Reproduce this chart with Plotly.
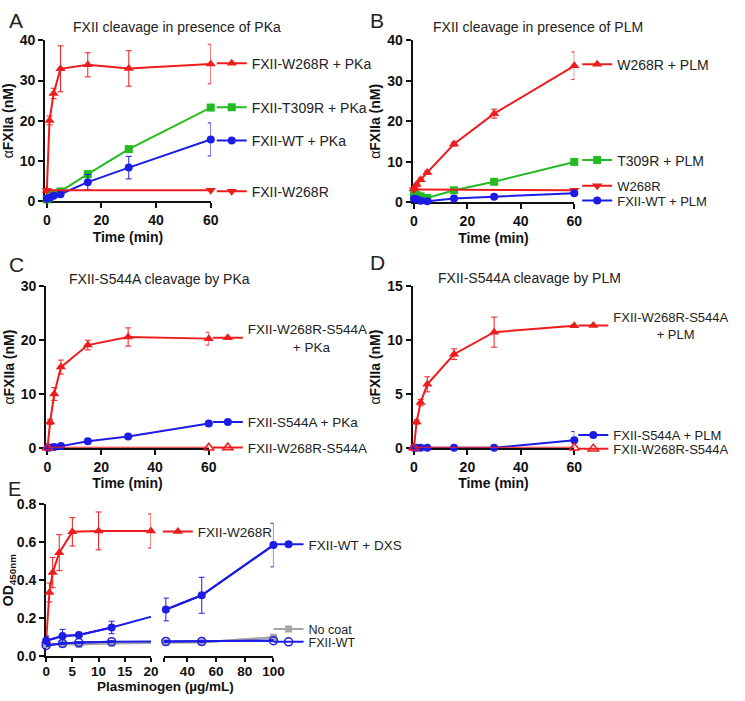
import plotly.graph_objects as go

W, H = 745, 701
FONT = "Liberation Sans, Arial, sans-serif"
RED = "#EE1C1C"
BLUE = "#1C1CE6"
GREEN = "#22BB22"
GRAY = "#A6A6A6"
INK = "#111111"

# ---------------- data ----------------
# Panel A: FXII cleavage in presence of PKa
t_a = [0, 1, 2.5, 5, 15, 30, 60]
a_w268r_pka = [2.7, 20.1, 26.8, 32.9, 33.9, 33.0, 34.1]
a_w268r_pka_err = [0.3, 1.1, 1.3, 5.7, 3.0, 4.4, 4.9]
a_t309r_pka = [0.5, 1.0, 1.8, 2.5, 6.8, 13.0, 23.3]
a_t309r_pka_err = [0.2, 0.2, 0.2, 0.3, 0.4, 0.5, 0.4]
a_wt_pka = [0.7, 1.0, 1.4, 1.8, 4.8, 8.4, 15.4]
a_wt_pka_err = [0.2, 0.3, 0.4, 0.6, 1.9, 2.8, 4.1]
t_a_ctrl = [0, 60]
a_w268r = [2.8, 2.8]

# Panel B: FXII cleavage in presence of PLM
t_b = [0, 1, 2.5, 5, 15, 30, 60]
b_w268r_plm = [3.4, 4.4, 5.6, 7.4, 14.4, 21.9, 33.7]
b_w268r_plm_err = [0.3, 0.3, 0.4, 0.4, 0.5, 1.1, 3.4]
b_t309r_plm = [2.0, 1.8, 1.5, 1.1, 3.0, 5.1, 10.0]
b_t309r_plm_err = [0.2, 0.2, 0.2, 0.2, 0.2, 0.3, 0.3]
b_wt_plm = [0.9, 0.8, 0.4, 0.3, 1.0, 1.4, 2.3]
b_wt_plm_err = [0.1, 0.1, 0.1, 0.1, 0.1, 0.2, 0.2]
t_b_ctrl = [0, 60]
b_w268r = [3.2, 3.0]

# Panel C: FXII-S544A cleavage by PKa
t_c = [0, 1, 2.5, 5, 15, 30, 60]
c_w268r_s544a_pka = [0, 4.8, 10.0, 15.0, 19.1, 20.6, 20.3]
c_w268r_s544a_pka_err = [0, 0.5, 1.2, 1.3, 0.9, 1.7, 1.2]
c_s544a_pka = [0, 0.05, 0.15, 0.3, 1.2, 2.1, 4.5]
c_s544a_pka_err = [0, 0, 0, 0, 0.1, 0.15, 0.5]
t_c_ctrl = [0, 60]
c_w268r_s544a = [0, 0]

# Panel D: FXII-S544A cleavage by PLM
t_d = [0, 1, 2.5, 5, 15, 30, 60]
d_w268r_s544a_plm = [0, 2.4, 4.2, 5.9, 8.7, 10.75, 11.35]
d_w268r_s544a_plm_err = [0, 0.2, 0.3, 0.7, 0.5, 1.4, 0.1]
d_s544a_plm = [0, 0, 0, 0, 0, 0, 0.7]
d_s544a_plm_err = [0, 0, 0, 0, 0, 0, 0.8]
t_d_ctrl = [0, 60]
d_w268r_s544a = [0, 0]

# Panel E: OD450 vs plasminogen
e_x_w268r = [0, 0.625, 1.25, 2.5, 5, 10, 20]
e_w268r = [0.08, 0.335, 0.44, 0.545, 0.655, 0.66, 0.66]
e_w268r_err = [0.02, 0.05, 0.08, 0.095, 0.075, 0.1, 0.09]
e_x = [0, 3.125, 6.25, 12.5, 25, 50, 100]
e_dxs = [0.08, 0.105, 0.11, 0.15, 0.245, 0.32, 0.585]
e_dxs_err = [0.025, 0.035, 0.01, 0.033, 0.06, 0.095, 0.115]
e_wt = [0.055, 0.066, 0.07, 0.075, 0.076, 0.076, 0.08]
e_wt_err = [0.005, 0.005, 0.005, 0.005, 0.005, 0.005, 0.005]
e_nocoat = [0.06, 0.062, 0.06, 0.066, 0.07, 0.072, 0.098]
e_nocoat_err = [0.006, 0.006, 0.006, 0.006, 0.006, 0.006, 0.008]

# ---------------- helpers ----------------
def px_x(v):
    return v / W

def px_y(v):
    return 1 - v / H

fig = go.Figure()


def series(x, y, color, symbol, name, leg, xa, ya, err=None, size=8,
           open_=False, show=True, mode="lines+markers"):
    marker = dict(symbol=symbol, size=size, color=color)
    if open_:
        marker["line"] = dict(color=color, width=1.5)
    tr = go.Scatter(x=x, y=y, mode=mode, name=name, legend=leg,
                    xaxis=xa, yaxis=ya, line=dict(color=color, width=2),
                    marker=marker, cliponaxis=False, showlegend=show)
    if err is not None:
        tr.error_y = dict(type="data", array=err, color=color,
                          thickness=1, width=3)
    fig.add_trace(tr)


def split_series(x, y, err, color, symbol, name, leg, size=8, open_=False, cut=21):
    # bridge line across the axis break (clipped by each subplot)
    for xa in ("x5", "x6"):
        fig.add_trace(go.Scatter(x=x, y=y, mode="lines", xaxis=xa, yaxis="y5",
                                 line=dict(color=color, width=2),
                                 showlegend=False, hoverinfo="skip"))
    lo = [i for i, v in enumerate(x) if v <= cut]
    hi = [i for i, v in enumerate(x) if v > cut]
    series([x[i] for i in lo], [y[i] for i in lo], color, symbol, name, leg,
           "x5", "y5", err=[err[i] for i in lo], size=size, open_=open_)
    series([x[i] for i in hi], [y[i] for i in hi], color, symbol, name, leg,
           "x6", "y5", err=[err[i] for i in hi], size=size, open_=open_, show=False)


# Panel A
series(t_a, a_w268r_pka, RED, "triangle-up", "FXII-W268R + PKa", "legend", "x", "y", a_w268r_pka_err, 9)
series(t_a, a_t309r_pka, GREEN, "square", "FXII-T309R + PKa", "legend2", "x", "y", a_t309r_pka_err, 8)
series(t_a, a_wt_pka, BLUE, "circle", "FXII-WT + PKa", "legend3", "x", "y", a_wt_pka_err, 8)
series(t_a_ctrl, a_w268r, RED, "triangle-down", "FXII-W268R", "legend4", "x", "y", None, 9)

# Panel B
series(t_b, b_w268r_plm, RED, "triangle-up", "W268R + PLM", "legend5", "x2", "y2", b_w268r_plm_err, 9)
series(t_b, b_t309r_plm, GREEN, "square", "T309R + PLM", "legend6", "x2", "y2", b_t309r_plm_err, 8)
series(t_b_ctrl, b_w268r, RED, "triangle-down", "W268R", "legend7", "x2", "y2", None, 9)
series(t_b, b_wt_plm, BLUE, "circle", "FXII-WT + PLM", "legend8", "x2", "y2", b_wt_plm_err, 8)

NB = "\u00a0"
# Panel C
series(t_c, c_w268r_s544a_pka, RED, "triangle-up", "FXII-W268R-S544A<br>" + NB * 12 + "+ PKa",
       "legend9", "x3", "y3", c_w268r_s544a_pka_err, 9)
series(t_c, c_s544a_pka, BLUE, "circle", "FXII-S544A + PKa", "legend10", "x3", "y3", c_s544a_pka_err, 8)
series(t_c_ctrl, c_w268r_s544a, RED, "triangle-up-open", "FXII-W268R-S544A", "legend11", "x3", "y3",
       None, 9, open_=True)

# Panel D
series(t_d, d_w268r_s544a_plm, RED, "triangle-up", "FXII-W268R-S544A<br>" + NB * 12 + "+ PLM",
       "legend12", "x4", "y4", d_w268r_s544a_plm_err, 9)
series(t_d, d_s544a_plm, BLUE, "circle", "FXII-S544A + PLM", "legend13", "x4", "y4", d_s544a_plm_err, 8)
series(t_d_ctrl, d_w268r_s544a, RED, "triangle-up-open", "FXII-W268R-S544A", "legend14", "x4", "y4",
       None, 9, open_=True)

# Panel E
series(e_x_w268r, e_w268r, RED, "triangle-up", "FXII-W268R", "legend15", "x5", "y5", e_w268r_err, 9)
split_series(e_x, e_nocoat, e_nocoat_err, GRAY, "square", "No coat", "legend17", 7)
split_series(e_x, e_wt, e_wt_err, BLUE, "circle-open", "FXII-WT", "legend18", 8, open_=True)
split_series(e_x, e_dxs, e_dxs_err, BLUE, "circle", "FXII-WT + DXS", "legend16", 8)


# ---------------- axes ----------------
TICKFONT = dict(family=FONT, size=14, color=INK, weight="bold")
TITLEFONT = dict(family=FONT, size=14, color=INK, weight="bold")


def axis(x0, x1, rng, tickvals, anchor, title=None, standoff=4, fmt=None, vertical=False):
    if vertical:
        dom = [px_y(x1), px_y(x0)]
    else:
        dom = [px_x(x0), px_x(x1)]
    d = dict(domain=dom, range=rng, tickvals=tickvals, showline=True,
             linecolor=INK, linewidth=2, ticks="outside", ticklen=5,
             tickwidth=2, tickcolor=INK, showgrid=False, zeroline=False,
             tickfont=TICKFONT, anchor=anchor, layer="below traces",
             fixedrange=True)
    if fmt:
        d["tickformat"] = fmt
    if title:
        d["title"] = dict(text=title, font=TITLEFONT, standoff=standoff)
    return d


YT = "<span style='font-weight:normal'>\u03b1</span>FXIIa (nM)"
XT = "Time (min)"
TV = [0, 20, 40, 60]
E2_TV = [23.5, 40, 60, 80, 100]
E2_TT = ["", "40", "60", "80", "100"]

layout = dict(
    width=W, height=H, margin=dict(l=0, r=0, t=0, b=0),
    paper_bgcolor="white", plot_bgcolor="rgba(0,0,0,0)",
    font=dict(family=FONT, color="#222"),
    xaxis=axis(42, 211, [-0.6, 60], TV, "y", XT, 5),
    yaxis=axis(33, 198, [0, 40], [0, 10, 20, 30, 40], "x", YT, 3, vertical=True),
    xaxis2=axis(417, 582, [-0.5, 60], TV, "y2", XT, 5),
    yaxis2=axis(33, 199, [0, 40], [0, 10, 20, 30, 40], "x2", YT, 3, vertical=True),
    xaxis3=axis(43, 209, [-0.5, 60], TV, "y3", XT, 5),
    yaxis3=axis(285, 450, [0, 30], [0, 10, 20, 30], "x3", YT, 3, vertical=True),
    xaxis4=axis(417, 582, [-0.5, 60], TV, "y4", XT, 5),
    yaxis4=axis(285, 450, [0, 15], [0, 5, 10, 15], "x4", YT, 3, vertical=True),
    xaxis5=axis(43, 150, [0, 20], [0, 5, 10, 15, 20], "y5"),
    xaxis6=axis(163, 275, [23.5, 100], E2_TV, "y5"),
    yaxis5=axis(508, 663, [0, 0.8], [0, 0.2, 0.4, 0.6, 0.8], "x5", "OD<sub>450nm</sub>", 3,
                fmt=".1f", vertical=True),
    showlegend=True,
)
layout["xaxis6"]["ticktext"] = E2_TT
for k in ("xaxis5", "xaxis6"):
    layout[k]["ticklen"] = 4
    layout[k]["ticklabelstandoff"] = -2
    layout[k]["tickfont"] = dict(TICKFONT, size=13.5)


def leg(xpx, ypx, size=14):
    return dict(x=px_x(xpx), y=px_y(ypx), xanchor="left", yanchor="middle",
                bgcolor="rgba(0,0,0,0)", borderwidth=0, itemwidth=30,
                font=dict(family=FONT, size=size, color="#222"),
                itemclick=False, itemdoubleclick=False)


legend_pos = {
    "legend": (212, 57, 14), "legend2": (212, 102, 14), "legend3": (212, 136, 14),
    "legend4": (212, 188, 14),
    "legend5": (585, 58, 14), "legend6": (585, 156, 14), "legend7": (585, 182, 13),
    "legend8": (585, 197, 13),
    "legend9": (208, 338, 13.5), "legend10": (208, 424, 13.5), "legend11": (208, 450, 13.5),
    "legend12": (581, 325, 13), "legend13": (581, 437, 13), "legend14": (581, 451, 13),
    "legend15": (157, 536, 13.5), "legend16": (270, 549, 13.5), "legend17": (270, 636, 12.5),
    "legend18": (270, 649, 12.5),
}
for k, (lx, ly, fs) in legend_pos.items():
    layout[k] = leg(lx, ly, fs)

fig.update_layout(**layout)

# ---------------- annotations ----------------
ann = []
for letter, (lx, ly) in {"A": (12, 13), "B": (381, 13), "C": (13, 262), "D": (381, 260),
                         "E": (11, 492)}.items():
    ann.append(dict(text=letter, x=px_x(lx), y=px_y(ly), xref="paper", yref="paper",
                    showarrow=False, xanchor="center", yanchor="middle",
                    font=dict(family=FONT, size=20 if letter == "E" else 21, color="#222")))
for title, (tx, ty) in {"FXII cleavage in presence of PKa": (177, 19),
                        "FXII cleavage in presence of PLM": (545, 19),
                        "FXII-S544A cleavage by PKa": (159, 277),
                        "FXII-S544A cleavage by PLM": (536, 276)}.items():
    ann.append(dict(text=title, x=px_x(tx), y=px_y(ty), xref="paper", yref="paper",
                    showarrow=False, xanchor="center", yanchor="middle",
                    font=dict(family=FONT, size=14, color="#222")))
ann.append(dict(text="Plasminogen (\u00b5g/mL)", x=px_x(165), y=px_y(694), xref="paper",
                yref="paper", showarrow=False, xanchor="center", yanchor="middle",
                font=dict(TITLEFONT, size=13.5)))
fig.update_layout(annotations=ann)

fig.write_html("out.html", config={"displayModeBar": False},
               post_script="document.body.style.margin='0px';document.body.style.overflow='hidden';")
